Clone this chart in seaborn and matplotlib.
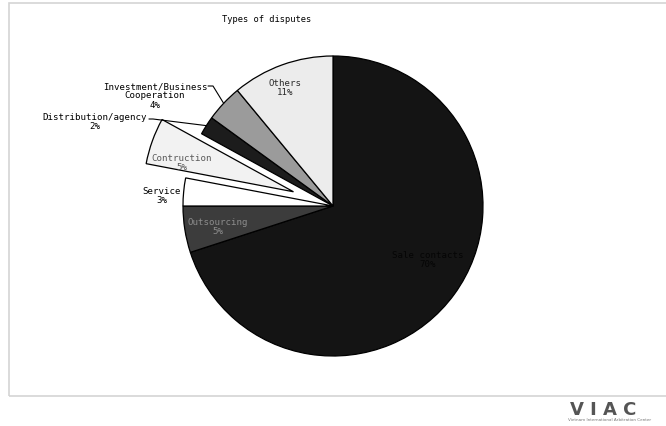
import numpy as np
import matplotlib
matplotlib.use('Agg')
import matplotlib.pyplot as plt
import seaborn as sns
from matplotlib.patches import Rectangle

# data (clockwise from 12 o'clock)
categories = ['Sale contacts', 'Outsourcing', 'Service', 'Contruction',
              'Distribution/agency', 'Investment/Business\nCooperation', 'Others']
shares = [70, 5, 3, 5, 2, 4, 11]
slice_colors = ['#141414', '#3c3c3c', '#ffffff', '#f2f2f2', '#1c1c1c', '#9b9b9b', '#ececec']
label_colors = ['#050505', '#8c8c8c', '#000000', '#5a5a5a', '#000000', '#000000', '#2a2a2a']
explode = [0, 0, 0, 0.28, 0, 0, 0]

# label positions in pie-radius units
label_pos = [(0.633, -0.353), (-0.767, -0.133), (-1.14, 0.073), (-1.007, 0.293),
             (-1.587, 0.567), (-1.187, 0.74), (-0.32, 0.793)]
# leader lines: (slice index, line start, elbow)
leaders = [(4, (-1.227, 0.58), (-1.20, 0.58)),
           (5, (-0.833, 0.80), (-0.80, 0.80))]

sns.set_theme(style='white')
plt.rcParams['font.family'] = ['DejaVu Sans Mono']

R = 150.0  # pie radius in pixels
fig = plt.figure(figsize=(6.66, 4.27), dpi=100)
ax = fig.add_axes([0, 0, 1, 1])

wedges, _ = ax.pie(shares, colors=slice_colors, explode=explode, startangle=90,
                   counterclock=False,
                   wedgeprops=dict(edgecolor='black', linewidth=0.9))

for cat, val, pos, col in zip(categories, shares, label_pos, label_colors):
    ax.text(pos[0], pos[1], f'{cat}\n{val}%', ha='center', va='center',
            fontsize=6.6, color=col, linespacing=1.05)

for idx, start, elbow in leaders:
    w = wedges[idx]
    mid = np.deg2rad((w.theta1 + w.theta2) / 2)
    end = (w.center[0] + np.cos(mid), w.center[1] + np.sin(mid))
    ax.plot([start[0], elbow[0], end[0]], [start[1], elbow[1], end[1]],
            color='black', lw=0.8)

ax.text(-0.44, 1.247, 'Types of disputes', ha='center', va='center',
        fontsize=6.3, color='black')

ax.set_xlim(-333 / R, 333 / R)
ax.set_ylim(-220 / R, 207 / R)
ax.set_aspect('auto')
ax.axis('off')

# chart area border
fig.add_artist(Rectangle((9 / 666, 1 - 397 / 427), 1.0, 393 / 427,
                         transform=fig.transFigure, fill=False,
                         edgecolor='#d4d4d4', lw=1.2))

# logo
fig.text(603 / 666, 1 - 410 / 427, 'V I A C', ha='center', va='center',
         fontsize=13, fontweight='bold', color='#555555', family='DejaVu Sans')
fig.text(610 / 666, 1 - 420 / 427, 'Vietnam International Arbitration Center',
         ha='center', va='center', fontsize=3, color='#777777', family='DejaVu Sans')

fig.savefig('out.png', dpi=100)
